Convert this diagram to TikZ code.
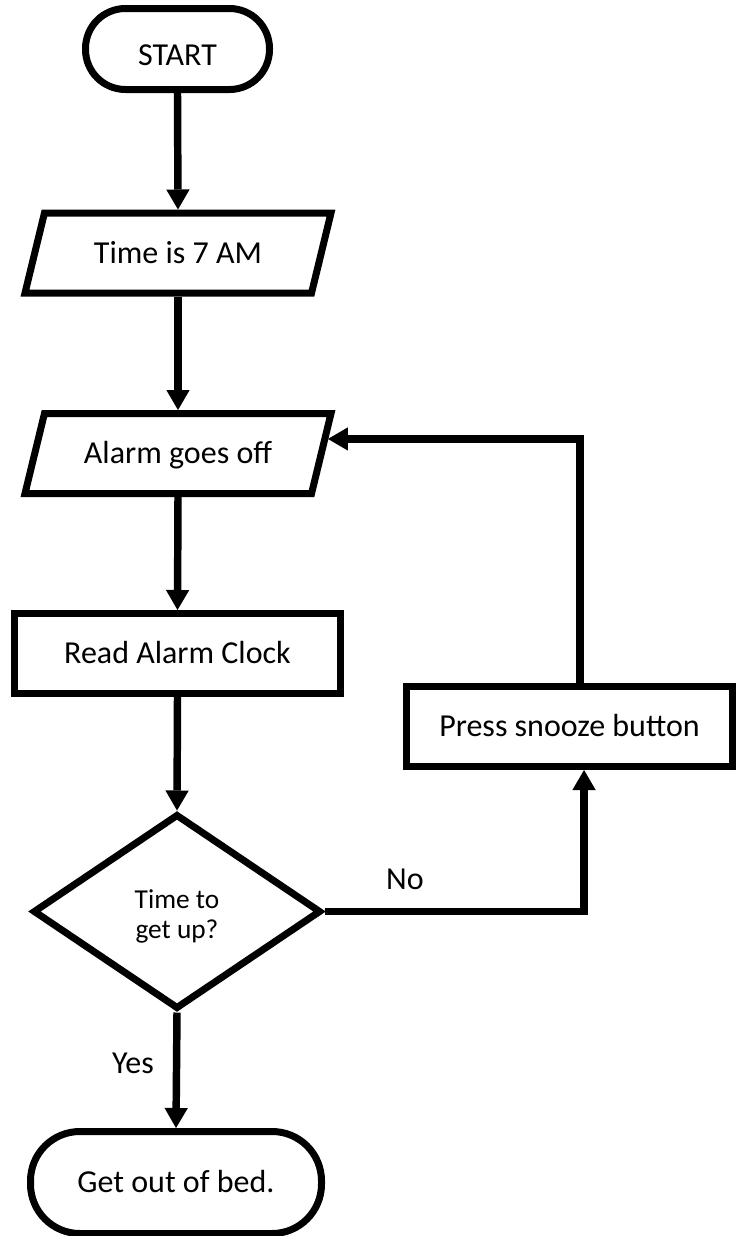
\documentclass[tikz,border=0pt]{standalone}
\usepackage{fontspec}
\setmainfont{Carlito}
\usetikzlibrary{shapes.geometric,arrows.meta,calc}

\begin{document}
\begin{tikzpicture}[
  x=0.75pt, y=-0.75pt,
  edge line/.style={line width=5.25pt},
  body font/.style={font=\fontsize{24}{28}\selectfont},
  box/.style={draw, edge line, body font, inner sep=0pt,
    text height=15.4pt, text depth=0pt},
  terminal/.style={box, rectangle},
  process/.style={box, rectangle, minimum width=244.5pt, minimum height=60pt},
  % frame for an input/output parallelogram; the outline is drawn separately
  io/.style={rectangle, body font, inner sep=0pt, outer sep=2.625pt,
    text height=15.4pt, text depth=0pt,
    minimum width=214.9pt, minimum height=60pt},
  decision/.style={draw, edge line, diamond, inner sep=0pt,
    minimum width=216pt, minimum height=146.25pt},
  question/.style={align=center, inner sep=0pt,
    font=\fontsize{20.5}{22.5}\selectfont},
  flow/.style={line width=5.6pt, -{Triangle[length=15pt,width=17.5pt,line width=0pt]}},
  tag/.style={body font, inner sep=0pt}
]
\useasboundingbox[fill=white] (0,0) rectangle (736,1236);

% outline of a parallelogram around an io frame, leaning right
\newcommand\slantframe[1]{%
  \draw[edge line, line join=miter]
    ([shift={(-4.675pt,2.625pt)}]#1.south west) --
    ([shift={(9.925pt,-2.625pt)}]#1.north west) --
    ([shift={(4.675pt,-2.625pt)}]#1.north east) --
    ([shift={(-9.925pt,2.625pt)}]#1.south east) -- cycle;}

% shapes of the flowchart
\node[terminal, rounded corners=30pt, minimum width=138pt, minimum height=60.75pt,
      text height=24pt] (start) at (177.5,49) {START};
\node[io] (seven) at (178,253) {Time is 7 AM};
\slantframe{seven}
\node[io] (alarm) at (178,453.5) {Alarm goes off};
\slantframe{alarm}
\node[process] (read) at (177.5,653.5) {Read Alarm Clock};
\node[decision] (ask) at (177,911.5) {};
\node[question] (askq) at (177,916) {Time to\\get up?};
\node[terminal, rounded corners=37pt, minimum width=218.25pt, minimum height=76.5pt]
      (bed) at (176,1182.5) {Get out of bed.};
\node[process] (snooze) at (569.5,726.5) {Press snooze button};

% entry point of the snooze loop on the slanted side
\coordinate (alarmin) at ([shift={(2.4pt,10.9pt)}]alarm.east);

% main flow
\draw[flow] (start.south) -- (seven.north);
\draw[flow] (seven.south) -- (alarm.north);
\draw[flow] (alarm.south) -- (read.north);
\draw[flow] (read.south) -- (ask.north);
\draw[flow] (ask.south) -- (bed.north);
\node[tag] (yes) at (133,1063) {Yes};

% snooze branch
\draw[flow] (ask.east) -| ([xshift=10.9pt]snooze.south);
\node[tag] (no) at (405,879) {No};
\draw[flow] ([xshift=7.9pt]snooze.north) |- (alarmin);
\end{tikzpicture}
\end{document}
